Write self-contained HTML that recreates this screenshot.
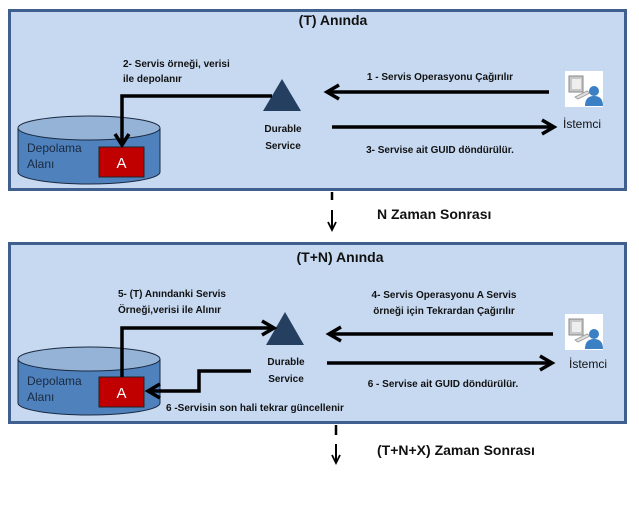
<!DOCTYPE html>
<html><head><meta charset="utf-8"><style>
html,body{margin:0;padding:0;background:#fff}
svg{display:block}
text{font-family:"Liberation Sans",sans-serif}
.s{font-size:10px;font-weight:bold;fill:#111}
.t{font-size:14px;font-weight:bold;fill:#111}
.c{font-size:12px;fill:#1a2a40}
</style></head><body>
<svg width="639" height="509" viewBox="0 0 639 509" xmlns="http://www.w3.org/2000/svg">
<defs>
<g id="icon">
<rect x="0" y="0" width="38" height="36" fill="#fff"/>
<rect x="4" y="5" width="14" height="16" fill="#c8c8c8" stroke="#888" stroke-width="1"/>
<rect x="7" y="8" width="9" height="10" fill="#eee"/>
<path d="M10 26 L22 20 L25 22 L13 28Z" fill="#ddd" stroke="#999" stroke-width="0.8"/>
<circle cx="29" cy="20" r="5" fill="#3b7fc4"/>
<path d="M20 35 Q20 25 29 25 Q38 25 38 35Z" fill="#3b7fc4"/>
</g>
</defs>
<rect x="9.5" y="10.5" width="616" height="179" fill="#c6d9f1" stroke="#3f5f8f" stroke-width="3"/>
<text class="t" x="333" y="25" text-anchor="middle">(T) Anında</text>
<path d="M18 128 L18 172 A71 12 0 0 0 160 172 L160 128" fill="#4f81bd" stroke="#1a2a40" stroke-width="1"/>
<ellipse cx="89" cy="128" rx="71" ry="12" fill="#95b3d7" stroke="#1a2a40" stroke-width="1"/>
<text class="c" x="27" y="152">Depolama</text>
<text class="c" x="27" y="168">Alanı</text>
<rect x="99" y="147" width="45" height="30" fill="#c00000" stroke="#222" stroke-width="1"/>
<text x="121.5" y="168" text-anchor="middle" font-size="15" fill="#fff">A</text>
<polygon points="282,79 263,111 301,111" fill="#243f60"/>
<text class="s" x="283" y="132" text-anchor="middle">Durable</text>
<text class="s" x="283" y="149" text-anchor="middle">Service</text>
<polyline points="272,96 122,96 122,144" fill="none" stroke="#000" stroke-width="3.5"/>
<polyline points="115,134 122,145 129,134" fill="none" stroke="#000" stroke-width="3.5"/>
<text class="s" x="123" y="67">2- Servis örneği,  verisi</text>
<text class="s" x="123" y="82">ile depolanır</text>
<line x1="549" y1="92" x2="328" y2="92" stroke="#000" stroke-width="3.5"/>
<polyline points="339,85 327,92 339,99" fill="none" stroke="#000" stroke-width="3.5"/>
<text class="s" x="440" y="80" text-anchor="middle">1 - Servis Operasyonu  Çağırılır</text>
<line x1="332" y1="127" x2="552" y2="127" stroke="#000" stroke-width="3.5"/>
<polyline points="542,120 554,127 542,134" fill="none" stroke="#000" stroke-width="3.5"/>
<text class="s" x="440" y="153" text-anchor="middle">3- Servise ait  GUID döndürülür.</text>
<use href="#icon" x="565" y="71"/>
<text x="582" y="128" text-anchor="middle" font-size="12" fill="#111">İstemci</text>
<line x1="332" y1="192" x2="332" y2="200" stroke="#000" stroke-width="2.5"/>
<line x1="332" y1="210" x2="332" y2="228" stroke="#000" stroke-width="2"/>
<polyline points="328,222 332,230 336,222" fill="none" stroke="#000" stroke-width="1.8"/>
<text class="t" x="377" y="219">N Zaman Sonrası</text>
<rect x="9.5" y="243.5" width="616" height="179" fill="#c6d9f1" stroke="#3f5f8f" stroke-width="3"/>
<text class="t" x="340" y="262" text-anchor="middle">(T+N) Anında</text>
<path d="M18 359 L18 403 A71 12 0 0 0 160 403 L160 359" fill="#4f81bd" stroke="#1a2a40" stroke-width="1"/>
<ellipse cx="89" cy="359" rx="71" ry="12" fill="#95b3d7" stroke="#1a2a40" stroke-width="1"/>
<text class="c" x="27" y="385">Depolama</text>
<text class="c" x="27" y="401">Alanı</text>
<rect x="99" y="377" width="45" height="30" fill="#c00000" stroke="#222" stroke-width="1"/>
<text x="121.5" y="398" text-anchor="middle" font-size="15" fill="#fff">A</text>
<polygon points="285,312 266,345 304,345" fill="#243f60"/>
<text class="s" x="286" y="365" text-anchor="middle">Durable</text>
<text class="s" x="286" y="382" text-anchor="middle">Service</text>
<polyline points="122,377 122,328 272,328" fill="none" stroke="#000" stroke-width="3.5"/>
<polyline points="262,321 274,328 262,335" fill="none" stroke="#000" stroke-width="3.5"/>
<text class="s" x="118" y="297">5- (T) Anındanki  Servis</text>
<text class="s" x="118" y="313">Örneği,verisi ile  Alınır</text>
<polyline points="251,371 199,371 199,391 150,391" fill="none" stroke="#000" stroke-width="3.5"/>
<polyline points="160,384 148,391 160,398" fill="none" stroke="#000" stroke-width="3.5"/>
<text class="s" x="166" y="411">6 -Servisin son hali tekrar güncellenir</text>
<line x1="553" y1="334" x2="330" y2="334" stroke="#000" stroke-width="3.5"/>
<polyline points="341,327 329,334 341,341" fill="none" stroke="#000" stroke-width="3.5"/>
<text class="s" x="444" y="298" text-anchor="middle">4- Servis Operasyonu  A Servis</text>
<text class="s" x="444" y="314" text-anchor="middle">örneği için  Tekrardan Çağırılır</text>
<line x1="327" y1="363" x2="550" y2="363" stroke="#000" stroke-width="3.5"/>
<polyline points="540,356 552,363 540,370" fill="none" stroke="#000" stroke-width="3.5"/>
<text class="s" x="443" y="387" text-anchor="middle">6 - Servise ait  GUID döndürülür.</text>
<use href="#icon" x="565" y="314"/>
<text x="588" y="368" text-anchor="middle" font-size="12" fill="#111">İstemci</text>
<line x1="336" y1="425" x2="336" y2="435" stroke="#000" stroke-width="2.5"/>
<line x1="336" y1="444" x2="336" y2="461" stroke="#000" stroke-width="2"/>
<polyline points="332,455 336,463 340,455" fill="none" stroke="#000" stroke-width="1.8"/>
<text class="t" x="377" y="455">(T+N+X) Zaman Sonrası</text>
</svg>
</body></html>
